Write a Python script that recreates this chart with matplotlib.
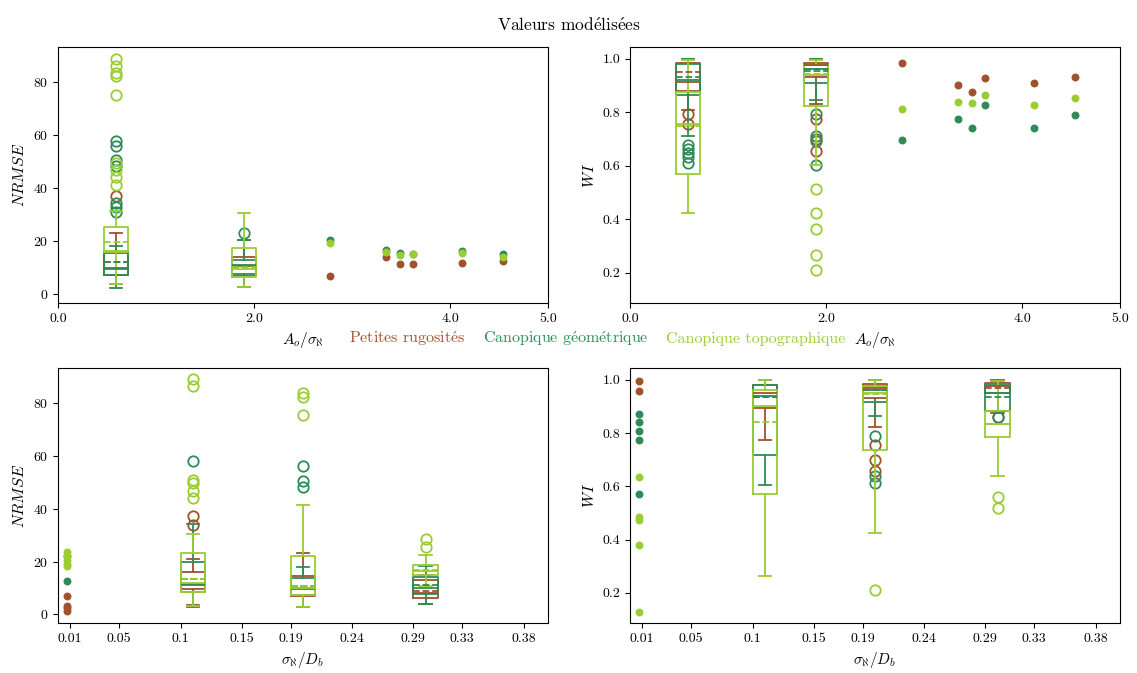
import matplotlib
matplotlib.use('Agg')
import matplotlib.pyplot as plt
from matplotlib.lines import Line2D
from matplotlib.ticker import FormatStrFormatter

plt.rcParams['font.family'] = ['cmr10', 'DejaVu Serif']
plt.rcParams['mathtext.fontset'] = 'cm'
plt.rcParams['axes.formatter.use_mathtext'] = True
plt.rcParams['font.size'] = 10

# cmr10 has no "é": build it with a mathtext accent
E = r'$\acute{\mathrm{e}}$'
labels = ['Petites rugosit' + E + 's', 'Canopique g' + E + 'om' + E + 'trique', 'Canopique topographique']
colors = ['#a0522d', '#2e8b57', '#9acd32']
title = 'Valeurs mod' + E + 'lis' + E + 'es'

# ---- top row : x = A_o / sigma ----
ratio_box_pos = [0.59, 1.9]
ratio_pts_pos = [2.78, 3.35, 3.49, 3.62, 4.12, 4.54]

# box stats : (whislo, q1, med, q3, whishi, mean)
nrmse_ratio_brown = [(3.8, 7.3, 10.0, 15.5, 23.0, 12.3), (2.9, 6.8, 10.5, 14.2, 20.5, 10.6)]
nrmse_ratio_dark = [(2.5, 7.3, 9.5, 16.0, 18.3, 12.3), (2.9, 7.6, 11.0, 13.1, 20.5, 10.4)]
nrmse_ratio_light = [(3.8, 16.0, 16.5, 25.5, 31.5, 19.6), (2.9, 6.6, 9.5, 17.6, 30.6, 10.4)]
nrmse_ratio_brown_fl = [[37.2], []]
nrmse_ratio_dark_fl = [[30.9, 32.9, 34.3, 48.5, 50.7, 55.9, 57.8], [23.0]]
nrmse_ratio_light_fl = [[41.2, 44.4, 46.9, 49.4, 75.4, 82.3, 83.6, 86.1, 88.8], []]
nrmse_ratio_brown_pts = [6.9, 14.0, 11.6, 11.6, 11.9, 12.4]
nrmse_ratio_dark_pts = [20.5, 16.6, 15.5, 15.3, 16.5, 15.3]
nrmse_ratio_light_pts = [19.2, 15.8, 14.7, 15.2, 15.5, 14.1]

wi_ratio_brown = [(0.809, 0.88, 0.913, 0.984, 1.0, 0.95), (0.83, 0.93, 0.975, 0.985, 1.0, 0.963)]
wi_ratio_dark = [(0.713, 0.865, 0.92, 0.981, 1.0, 0.93), (0.846, 0.911, 0.96, 0.978, 1.0, 0.953)]
wi_ratio_light = [(0.424, 0.57, 0.756, 0.875, 0.996, 0.75), (0.604, 0.822, 0.94, 0.978, 0.996, 0.943)]
wi_ratio_brown_fl = [[0.794, 0.756], [0.776, 0.701, 0.657]]
wi_ratio_dark_fl = [[0.678, 0.662, 0.647, 0.633, 0.61], [0.794, 0.713, 0.691, 0.604]]
wi_ratio_light_fl = [[], [0.513, 0.425, 0.365, 0.265, 0.211]]
wi_ratio_brown_pts = [0.986, 0.902, 0.877, 0.929, 0.911, 0.932]
wi_ratio_dark_pts = [0.696, 0.776, 0.743, 0.826, 0.742, 0.789]
wi_ratio_light_pts = [0.813, 0.839, 0.833, 0.863, 0.826, 0.855]

# ---- bottom row : x = sigma / D_b ----
sig_box_pos = [0.11, 0.2, 0.3]
sig_pts_pos = 0.0075
sig_ticks = [0.01, 0.05, 0.1, 0.15, 0.19, 0.24, 0.29, 0.33, 0.38]
sig_ticklabels = ['0.01', '0.05', '0.1', '0.15', '0.19', '0.24', '0.29', '0.33', '0.38']

nrmse_sig_brown = [(3.6, 9.6, 11.5, 16.1, 20.9, 13.3), (2.6, 6.8, 10.0, 14.6, 23.1, 10.8),
                   (3.9, 6.0, 8.0, 13.1, 15.0, 8.7)]
nrmse_sig_dark = [(2.6, 8.3, 11.0, 19.7, 34.4, 13.3), (2.6, 7.4, 9.5, 13.6, 17.8, 10.8),
                  (3.9, 7.7, 10.0, 14.0, 18.4, 11.2)]
nrmse_sig_light = [(3.0, 8.3, 12.0, 23.4, 30.4, 13.3), (2.6, 7.4, 10.0, 22.2, 41.4, 10.8),
                   (10.9, 14.9, 16.5, 18.8, 22.5, 16.9)]
nrmse_sig_brown_fl = [[33.9, 37.3], [], []]
nrmse_sig_dark_fl = [[58.1], [48.4, 50.5, 56.4], []]
nrmse_sig_light_fl = [[44.2, 46.7, 49.9, 50.9, 86.4, 89.2], [75.7, 82.4, 83.9], [25.6, 28.5]]
nrmse_sig_brown_pts = [7.0, 3.3, 2.3, 1.1]
nrmse_sig_dark_pts = [22.2, 12.8]
nrmse_sig_light_pts = [23.5, 22.0, 20.5, 19.2, 18.2]

wi_sig_brown = [(0.772, 0.893, 0.95, 0.98, 1.0, 0.934), (0.821, 0.93, 0.97, 0.985, 1.0, 0.96),
                (0.875, 0.95, 0.975, 0.987, 1.0, 0.969)]
wi_sig_dark = [(0.604, 0.716, 0.94, 0.98, 1.0, 0.934), (0.862, 0.915, 0.96, 0.978, 1.0, 0.96),
               (0.884, 0.884, 0.95, 0.981, 0.997, 0.935)]
wi_sig_light = [(0.265, 0.573, 0.9, 0.9625, 1.0, 0.841), (0.424, 0.735, 0.95, 0.9775, 1.0, 0.946),
                (0.64, 0.784, 0.834, 0.881, 0.997, 0.834)]
wi_sig_brown_fl = [[], [0.756, 0.697, 0.656], [0.859]]
wi_sig_dark_fl = [[], [0.787, 0.64, 0.613], [0.859]]
wi_sig_light_fl = [[], [0.21], [0.56, 0.519]]
wi_sig_brown_pts = [0.997, 0.958]
wi_sig_dark_pts = [0.871, 0.841, 0.806, 0.772, 0.570]
wi_sig_light_pts = [0.634, 0.485, 0.475, 0.379, 0.129]


def draw_boxes(ax, pos, stats, fliers, color, width):
    bx = []
    for (lo, q1, med, q3, hi, mean), fl in zip(stats, fliers):
        bx.append(dict(whislo=lo, q1=q1, med=med, q3=q3, whishi=hi, mean=mean, fliers=fl))
    lp = dict(color=color, lw=1.3)
    ax.bxp(bx, positions=pos, widths=width, showmeans=True, meanline=True, manage_ticks=False,
           boxprops=lp, whiskerprops=lp, capprops=lp, medianprops=lp,
           meanprops=dict(color=color, lw=1.3, ls='--'),
           flierprops=dict(marker='o', mfc='none', mec=color, mew=1.3, ms=7.5))


fig = plt.figure(figsize=(11.37, 6.73), dpi=100)
ax_tl = fig.add_axes([58 / 1137, 1 - 303 / 673, 490 / 1137, 256 / 673])
ax_tr = fig.add_axes([630 / 1137, 1 - 303 / 673, 490 / 1137, 256 / 673])
ax_bl = fig.add_axes([58 / 1137, 1 - 623 / 673, 490 / 1137, 255 / 673])
ax_br = fig.add_axes([630 / 1137, 1 - 623 / 673, 490 / 1137, 255 / 673])

top = [
    (ax_tl, [nrmse_ratio_brown, nrmse_ratio_dark, nrmse_ratio_light],
     [nrmse_ratio_brown_fl, nrmse_ratio_dark_fl, nrmse_ratio_light_fl],
     [nrmse_ratio_brown_pts, nrmse_ratio_dark_pts, nrmse_ratio_light_pts]),
    (ax_tr, [wi_ratio_brown, wi_ratio_dark, wi_ratio_light],
     [wi_ratio_brown_fl, wi_ratio_dark_fl, wi_ratio_light_fl],
     [wi_ratio_brown_pts, wi_ratio_dark_pts, wi_ratio_light_pts]),
]
for ax, stats, fls, pts in top:
    for s, f, p, c in zip(stats, fls, pts, colors):
        draw_boxes(ax, ratio_box_pos, s, f, c, 0.245)
        ax.scatter(ratio_pts_pos, p, s=22, color=c, zorder=3)
    ax.set_xlim(0, 5)
    ax.set_xticks([0, 2, 4, 5])
    ax.xaxis.set_major_formatter(FormatStrFormatter('%.1f'))
    ax.set_xlabel(r'$A_o/\sigma_\aleph$', fontsize=11)

bottom = [
    (ax_bl, [nrmse_sig_brown, nrmse_sig_dark, nrmse_sig_light],
     [nrmse_sig_brown_fl, nrmse_sig_dark_fl, nrmse_sig_light_fl],
     [nrmse_sig_brown_pts, nrmse_sig_dark_pts, nrmse_sig_light_pts]),
    (ax_br, [wi_sig_brown, wi_sig_dark, wi_sig_light],
     [wi_sig_brown_fl, wi_sig_dark_fl, wi_sig_light_fl],
     [wi_sig_brown_pts, wi_sig_dark_pts, wi_sig_light_pts]),
]
for ax, stats, fls, pts in bottom:
    for s, f, p, c in zip(stats, fls, pts, colors):
        draw_boxes(ax, sig_box_pos, s, f, c, 0.02)
        ax.scatter([sig_pts_pos] * len(p), p, s=22, color=c, zorder=3)
    ax.set_xlim(0, 0.4)
    ax.set_xticks(sig_ticks)
    ax.set_xticklabels(sig_ticklabels)
    ax.set_xlabel(r'$\sigma_\aleph/D_b$', fontsize=11)

for ax in (ax_tl, ax_bl):
    ax.set_ylim(-3.3, 93.4)
    ax.set_yticks([0, 20, 40, 60, 80])
    ax.set_ylabel(r'$NRMSE$', fontsize=11.5)
for ax in (ax_tr, ax_br):
    ax.set_ylim(0.087, 1.044)
    ax.set_yticks([0.2, 0.4, 0.6, 0.8, 1.0])
    ax.yaxis.set_major_formatter(FormatStrFormatter('%.1f'))
    ax.set_ylabel(r'$WI$', fontsize=11.5)

handles = [Line2D([], [], ls='none') for _ in labels]
fig.legend(handles, labels, loc='center', bbox_to_anchor=(0.525, 0.497), ncol=3, frameon=False,
           handlelength=0, handletextpad=0, columnspacing=1.1, labelcolor=colors, fontsize=11.5)

fig.suptitle(title, y=0.975, fontsize=12.5)
fig.savefig('out.png', dpi=100)
